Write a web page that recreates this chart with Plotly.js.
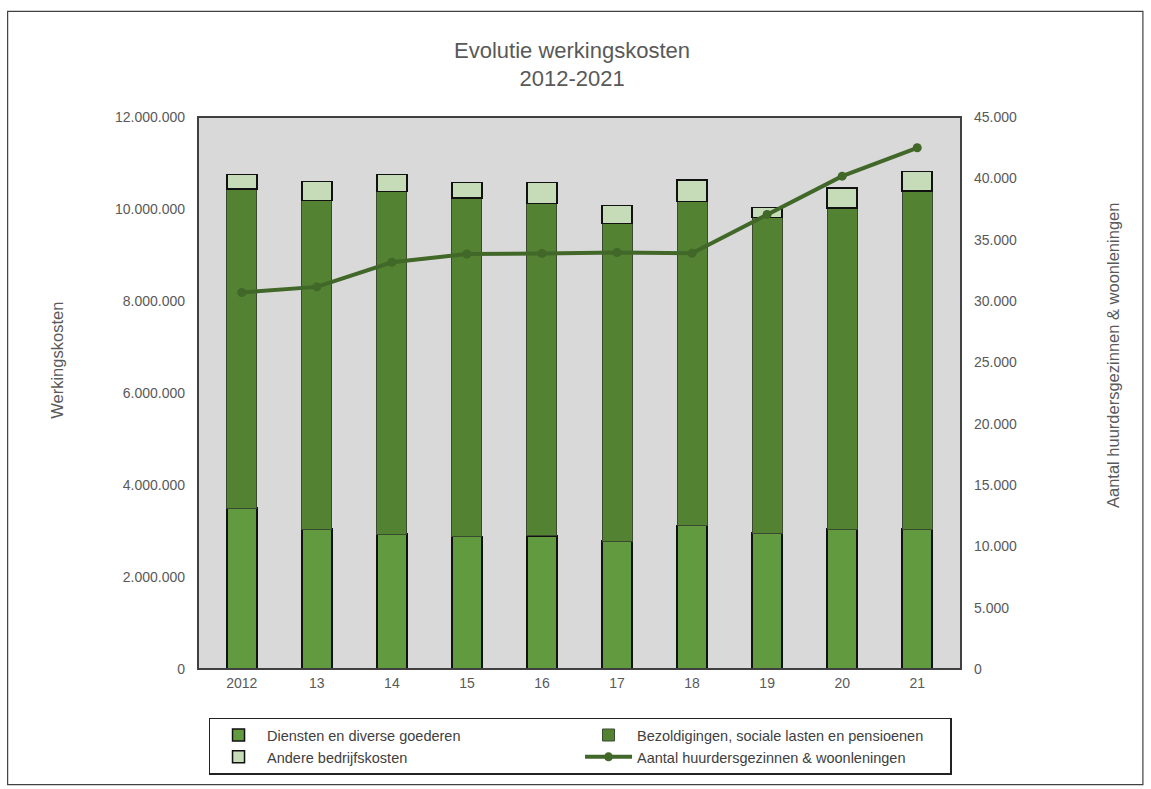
<!DOCTYPE html>
<html>
<head>
<meta charset="utf-8">
<script src="https://cdn.plot.ly/plotly-3.0.1.min.js"></script>
<style>html,body{margin:0;padding:0;background:#fff;}#chart{width:1151px;height:789px;}</style>
</head>
<body>
<div id="chart"></div>
<script>
const years = ["2012","13","14","15","16","17","18","19","20","21"];
const diensten = [3495000, 3039000, 2930000, 2878000, 2893000, 2778000, 3117000, 2952000, 3039000, 3039000];
const bezoldigingen = [6945000, 7148000, 7446000, 7359000, 7229000, 6903000, 7041000, 6866000, 6981000, 7350000];
const andere = [310000, 411000, 375000, 340000, 455000, 391000, 469000, 217000, 442000, 427000];
const aantal = [30690, 31150, 33160, 33830, 33870, 33950, 33890, 37060, 40180, 42490];
const leftTicks = [0, 2000000, 4000000, 6000000, 8000000, 10000000, 12000000];
const leftTickText = ["0","2.000.000","4.000.000","6.000.000","8.000.000","10.000.000","12.000.000"];
const rightTicks = [0,5000,10000,15000,20000,25000,30000,35000,40000,45000];
const rightTickText = ["0","5.000","10.000","15.000","20.000","25.000","30.000","35.000","40.000","45.000"];

const fontFam = '"Liberation Sans", Arial, sans-serif';
const txt = '#595959';

const traces = [
  {type:'bar', name:'Diensten en diverse goederen', x:years, y:diensten,
   marker:{color:'#629b3f', line:{color:'#111', width:1.5}}, hoverinfo:'y'},
  {type:'bar', name:'Bezoldigingen, sociale lasten en pensioenen', x:years, y:bezoldigingen,
   marker:{color:'#548233', line:{color:'#3a4a30', width:1}}, hoverinfo:'y'},
  {type:'bar', name:'Andere bedrijfskosten', x:years, y:andere,
   marker:{color:'#c6dbb7', line:{color:'#111', width:1.5}}, hoverinfo:'y'},
  {type:'scatter', mode:'lines+markers', name:'Aantal huurdersgezinnen & woonleningen', x:years, y:aantal, yaxis:'y2',
   line:{color:'#416829', width:4}, marker:{color:'#416829', size:9}}
];

const layout = {
  width:1151, height:789,
  margin:{l:197.5, r:190, t:116.5, b:119.7, autoexpand:false},
  paper_bgcolor:'#ffffff', plot_bgcolor:'#d9d9d9',
  barmode:'stack', bargap:0.6,
  font:{family:fontFam, size:14, color:txt},
  title:{text:'Evolutie werkingskosten<br>2012-2021', x:0.497, xref:'container', xanchor:'center',
         y:0.927, yref:'container', yanchor:'top', font:{size:22, color:txt, family:fontFam}},
  xaxis:{type:'category', showgrid:false, zeroline:false, ticks:'', showline:false,
         tickfont:{size:14, color:txt}, ticklabelstandoff:4},
  yaxis:{range:[0,12000000], tickvals:leftTicks, ticktext:leftTickText, showgrid:false, zeroline:false,
         ticks:'', tickfont:{size:14, color:txt}, ticklabelstandoff:12, fixedrange:true},
  yaxis2:{range:[0,45000], tickvals:rightTicks, ticktext:rightTickText, overlaying:'y', side:'right',
          showgrid:false, zeroline:false, ticks:'', tickfont:{size:14, color:txt}, ticklabelstandoff:12},
  showlegend:true,
  legend:{orientation:'h', x:0.0138, xanchor:'left', y:-0.088, yanchor:'top',
          entrywidth:308, entrywidthmode:'pixels', bgcolor:'#ffffff', bordercolor:'#222', borderwidth:1.5,
          font:{size:14.5, color:'#404040'}, traceorder:'normal', itemwidth:47},
  shapes:[
    {type:'rect', xref:'paper', yref:'paper', x0:0, x1:1, y0:0, y1:1, line:{color:'#404040', width:2}, fillcolor:'rgba(0,0,0,0)', layer:'above'},
    {type:'rect', xref:'paper', yref:'paper', x0:-0.2495, x1:1.2384, y0:-0.2093, y1:1.1914, line:{color:'#404040', width:1.2}, fillcolor:'rgba(0,0,0,0)'}
  ],
  annotations:[
    {text:'Werkingskosten', xref:'paper', yref:'paper', x:(57-197.5)/763.5, y:(669.3-360)/552.8,
     showarrow:false, textangle:-90, font:{size:16.5, color:txt}, xanchor:'center', yanchor:'middle'},
    {text:'Aantal huurdersgezinnen &amp; woonleningen', xref:'paper', yref:'paper', x:(1113-197.5)/763.5, y:(669.3-355)/552.8,
     showarrow:false, textangle:-90, font:{size:16.5, color:txt}, xanchor:'center', yanchor:'middle'}
  ]
};

Plotly.newPlot('chart', traces, layout, {displayModeBar:false, staticPlot:true});
</script>
</body>
</html>
